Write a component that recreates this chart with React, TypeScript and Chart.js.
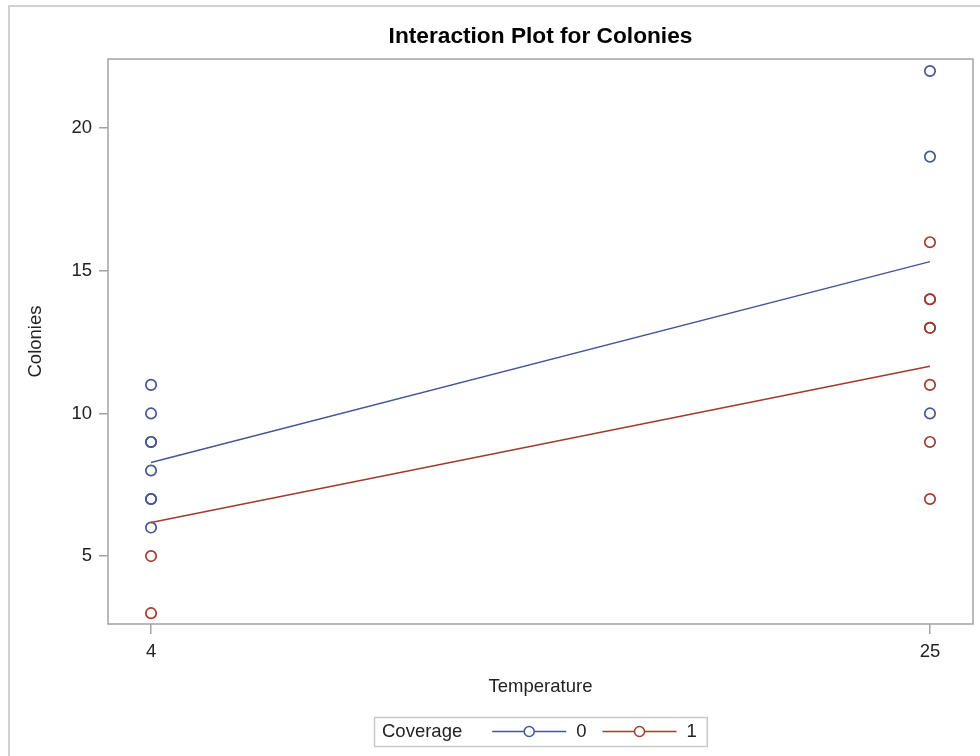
import React, { useEffect, useRef } from "react";
import { Chart, registerables } from "chart.js";

Chart.register(...registerables);

const chartTitle = "Interaction Plot for Colonies";
const xTitle = "Temperature";
const yTitle = "Colonies";
const legendTitle = "Coverage";
const groupLabels = ["0", "1"];
const groupColors = ["#445694", "#A23A2E"];

const xTickValues = [4, 25];
const yTickValues = [5, 10, 15, 20];
const xRange = [2.84, 26.16];
const yRange = [2.62, 22.42];

const cov0Temp = [4, 4, 4, 4, 4, 4, 4, 4, 25, 25, 25];
const cov0Colonies = [11, 10, 9, 9, 8, 7, 7, 6, 22, 19, 10];
const cov1Temp = [4, 4, 25, 25, 25, 25, 25, 25, 25, 25];
const cov1Colonies = [5, 3, 16, 14, 14, 13, 13, 11, 9, 7];

const fitTemp = [4, 25];
const fitCov0 = [8.28, 15.32];
const fitCov1 = [6.18, 11.65];

const FONT = '"Liberation Sans", Arial, Helvetica, sans-serif';
const TEXT = "#222222";
const AXIS = "#a3a3a3";

const toPts = (xs: number[], ys: number[]) => xs.map((x, i) => ({ x, y: ys[i] }));

const decorPlugin = {
  id: "decor",
  beforeDraw(chart: any) {
    const { ctx, width, height } = chart;
    ctx.save();
    ctx.fillStyle = "#ffffff";
    ctx.fillRect(0, 0, width, height);
    ctx.strokeStyle = "#d0d0d0";
    ctx.lineWidth = 2;
    ctx.beginPath();
    ctx.moveTo(9, height);
    ctx.lineTo(9, 6);
    ctx.lineTo(width, 6);
    ctx.stroke();
    ctx.restore();
  },
  beforeDatasetsDraw(chart: any) {
    const { ctx, chartArea: a } = chart;
    ctx.save();
    ctx.strokeStyle = AXIS;
    ctx.lineWidth = 1.5;
    ctx.strokeRect(a.left, a.top, a.right - a.left, a.bottom - a.top);
    ctx.restore();
  },
  afterDraw(chart: any) {
    const { ctx, chartArea: a } = chart;
    ctx.save();
    ctx.font = "18.5px " + FONT;
    ctx.textBaseline = "middle";
    const padL = 8, padR = 10, gapTitle = 30, lineLen = 74, gapText = 10, gapItem = 16;
    const titleW = ctx.measureText(legendTitle).width;
    const labelWs = groupLabels.map((l) => ctx.measureText(l).width);
    let total = padL + titleW + gapTitle + padR;
    labelWs.forEach((w, i) => {
      total += lineLen + gapText + w + (i > 0 ? gapItem : 0);
    });
    const cx = (a.left + a.right) / 2;
    const left = Math.round(cx - total / 2);
    const top = 717, h = 29;
    const cy = top + h / 2;
    ctx.strokeStyle = "#c8c8c8";
    ctx.lineWidth = 1.5;
    ctx.strokeRect(left + 0.5, top + 0.5, total, h);
    ctx.fillStyle = TEXT;
    let x = left + padL;
    ctx.fillText(legendTitle, x, cy);
    x += titleW + gapTitle;
    groupLabels.forEach((lab, i) => {
      if (i > 0) x += gapItem;
      const col = groupColors[i];
      ctx.strokeStyle = col;
      ctx.lineWidth = 1.5;
      ctx.beginPath();
      ctx.moveTo(x, cy);
      ctx.lineTo(x + lineLen, cy);
      ctx.stroke();
      ctx.beginPath();
      ctx.fillStyle = "#ffffff";
      ctx.arc(x + lineLen / 2, cy, 5, 0, Math.PI * 2);
      ctx.fill();
      ctx.stroke();
      x += lineLen + gapText;
      ctx.fillStyle = TEXT;
      ctx.fillText(lab, x, cy);
      x += labelWs[i];
    });
    ctx.restore();
  },
};

export default function App() {
  const ref = useRef<HTMLCanvasElement | null>(null);

  useEffect(() => {
    if (!ref.current) return;
    const chart = new Chart(ref.current, {
      type: "scatter",
      data: {
        datasets: [
          {
            label: groupLabels[0] + " fit",
            data: toPts(fitTemp, fitCov0),
            showLine: true,
            borderColor: groupColors[0],
            borderWidth: 1.5,
            pointRadius: 0,
          },
          {
            label: groupLabels[1] + " fit",
            data: toPts(fitTemp, fitCov1),
            showLine: true,
            borderColor: groupColors[1],
            borderWidth: 1.5,
            pointRadius: 0,
          },
          {
            label: groupLabels[0],
            data: toPts(cov0Temp, cov0Colonies),
            borderColor: groupColors[0],
            backgroundColor: "rgba(0,0,0,0)",
            pointRadius: 5.2,
            pointBorderWidth: 1.7,
          },
          {
            label: groupLabels[1],
            data: toPts(cov1Temp, cov1Colonies),
            borderColor: groupColors[1],
            backgroundColor: "rgba(0,0,0,0)",
            pointRadius: 5.2,
            pointBorderWidth: 1.7,
          },
        ],
      },
      options: {
        animation: false,
        responsive: true,
        maintainAspectRatio: false,
        layout: { padding: { left: 0, right: 7, top: 0, bottom: 0 } },
        plugins: {
          legend: { display: false },
          tooltip: { enabled: false },
          title: {
            display: true,
            text: chartTitle,
            fullSize: false,
            color: "#000000",
            font: { family: FONT, size: 22.7, weight: "bold" },
            padding: { top: 23.6, bottom: 8.2 },
          },
        },
        scales: {
          x: {
            type: "linear",
            min: xRange[0],
            max: xRange[1],
            afterBuildTicks: (s: any) => {
              s.ticks = xTickValues.map((v) => ({ value: v }));
            },
            afterFit: (s: any) => {
              s.height = 132;
            },
            grid: { drawOnChartArea: false, drawTicks: true, tickLength: 10, color: AXIS, lineWidth: 1.5 },
            border: { display: false },
            ticks: { color: TEXT, font: { family: FONT, size: 18.5 }, padding: 7, maxRotation: 0 },
            title: {
              display: true,
              text: xTitle,
              color: TEXT,
              font: { family: FONT, size: 18.5 },
              padding: { top: 0, bottom: 58 },
            },
          },
          y: {
            type: "linear",
            min: yRange[0],
            max: yRange[1],
            afterBuildTicks: (s: any) => {
              s.ticks = yTickValues.map((v) => ({ value: v }));
            },
            afterFit: (s: any) => {
              s.width = 108;
            },
            grid: { drawOnChartArea: false, drawTicks: true, tickLength: 9, color: AXIS, lineWidth: 1.5 },
            border: { display: false },
            ticks: { color: TEXT, font: { family: FONT, size: 18.5 }, padding: 7 },
            title: {
              display: true,
              text: yTitle,
              color: TEXT,
              font: { family: FONT, size: 18.5 },
              padding: { top: 25, bottom: 0 },
            },
          },
        },
      },
      plugins: [decorPlugin],
    } as any);
    return () => chart.destroy();
  }, []);

  return (
    <div style={{ position: "absolute", left: 0, top: 0, width: 980, height: 756 }}>
      <canvas ref={ref} />
    </div>
  );
}
